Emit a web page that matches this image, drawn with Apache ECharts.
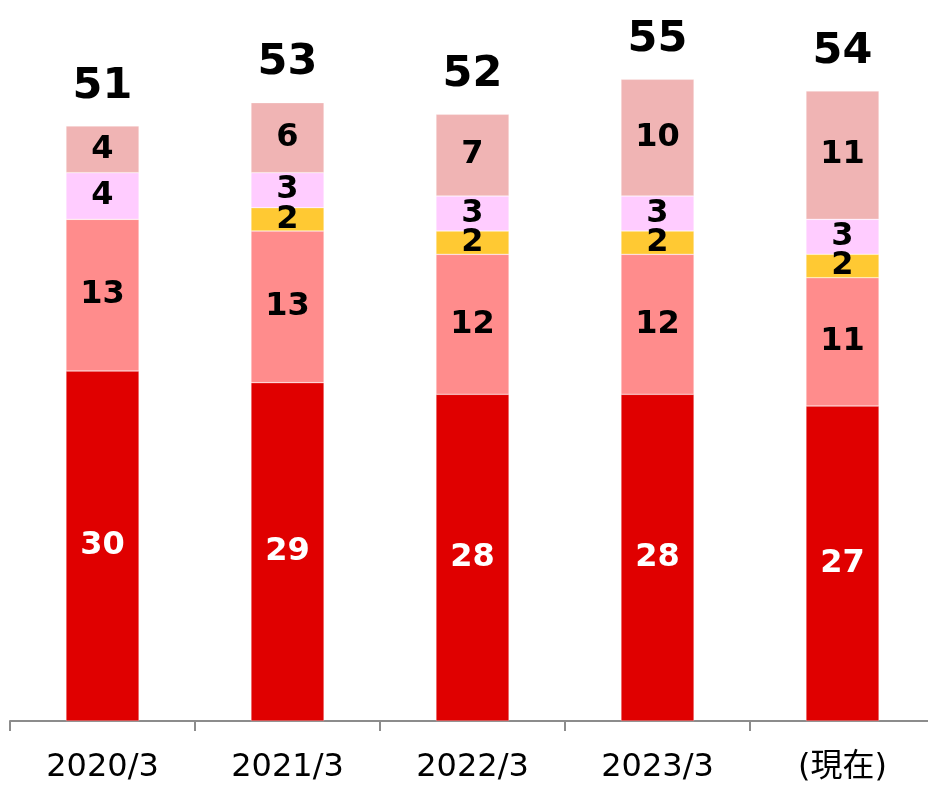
<!DOCTYPE html>
<html>
<head>
<meta charset="utf-8">
<script src="https://cdn.jsdelivr.net/npm/echarts@6/dist/echarts.min.js"></script>
<style>
  html, body { margin: 0; padding: 0; background: #fff; overflow: hidden; width: 928px; height: 789px; }
  #chart { width: 935px; height: 789px; }
</style>
</head>
<body>
<div id="chart"></div>
<script>
// カテゴリ
var categories = ['2020/3', '2021/3', '2022/3', '2023/3', '(現在)'];
// 各セグメントの値（下から順）
var redVals = [30, 29, 28, 28, 27];
var salmonVals = [13, 13, 12, 12, 11];
var yellowVals = [0, 2, 2, 2, 2];
var pinkVals = [4, 3, 3, 3, 3];
var roseVals = [4, 6, 7, 10, 11];
// 合計
var totals = [51, 53, 52, 55, 54];

var FONT = 'DejaVu Sans, Verdana, Noto Sans CJK JP, sans-serif';

var chart = echarts.init(document.getElementById('chart'));

//積み上げ系列を作る
function seg(name, data, color, labelColor) {
  return {
    name: name,
    type: 'bar',
    stack: 'total',
    barWidth: 73,
    data: data,
    itemStyle: { color: color, borderColor: 'rgba(255,255,255,0.6)', borderWidth: 0.5 },
    label: {
      show: true,
      position: 'inside',
      color: labelColor,
      fontFamily: FONT,
      fontWeight: 'bold',
      fontSize: 32,
      formatter: function (p) { return p.value ? String(p.value) : ''; }
    },
    z: 3
  };
}

var option = {
  backgroundColor: '#ffffff',
  animation: false,
  grid: { left: 10, right: 0, top: 21, bottom: 68, containLabel: false },
  xAxis: {
    type: 'category',
    data: categories,
    axisLine: { lineStyle: { color: '#8c8c8c', width: 2 } },
    axisTick: { show: true, length: 10, interval: 0, lineStyle: { color: '#8c8c8c', width: 2 } },
    axisLabel: {
      color: '#000',
      fontFamily: FONT,
      fontSize: 32,
      margin: 31,
      interval: 0
    }
  },
  yAxis: {
    type: 'value',
    min: 0,
    max: 60,
    show: false,
    splitLine: { show: false }
  },
  series: [
    seg('red', redVals, '#E00000', '#ffffff'),
    seg('salmon', salmonVals, '#FF8C8C', '#000000'),
    seg('yellow', yellowVals, '#FFC933', '#000000'),
    seg('pink', pinkVals, '#FFCCFF', '#000000'),
    seg('rose', roseVals, '#F0B4B4', '#000000'),
    {
      name: 'total',
      type: 'bar',
      barWidth: 73,
      barGap: '-100%',
      data: totals,
      itemStyle: { color: 'rgba(0,0,0,0)' },
      label: {
        show: true,
        position: 'top',
        distance: 18,
        color: '#000',
        fontFamily: FONT,
        fontWeight: 'bold',
        fontSize: 43
      },
      z: 1
    }
  ]
};

chart.setOption(option);
</script>
</body>
</html>
